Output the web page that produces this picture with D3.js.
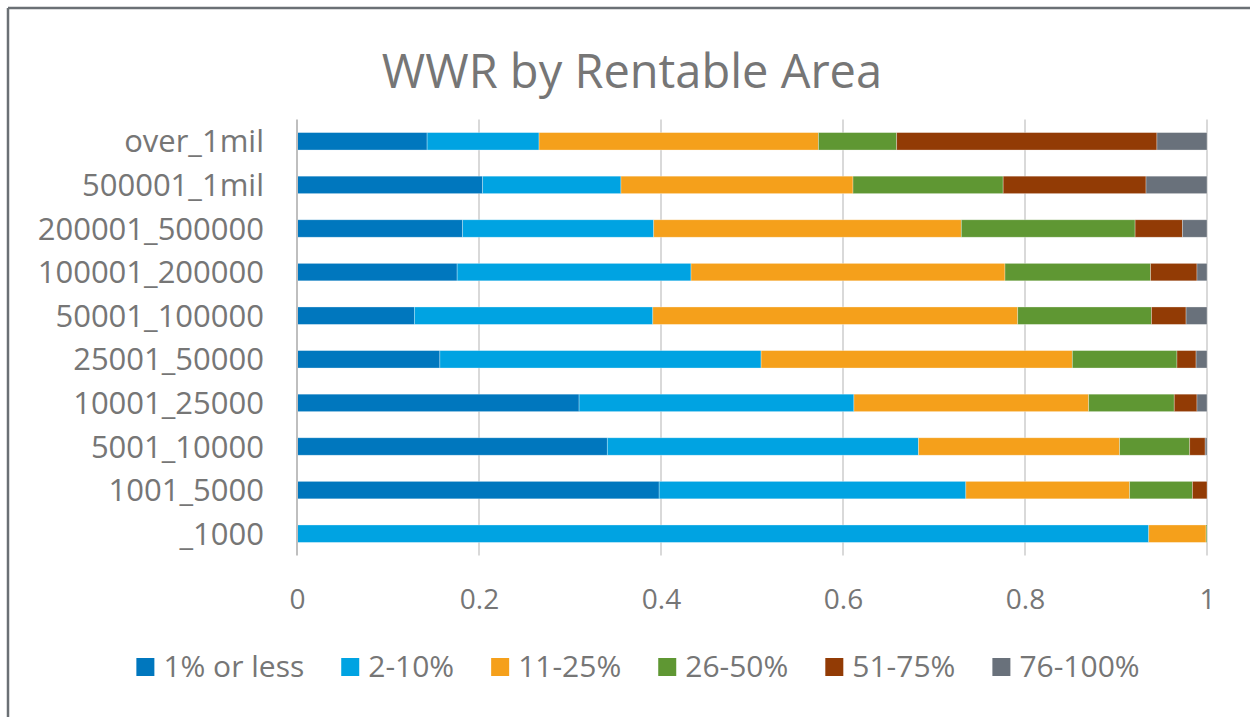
<!DOCTYPE html>
<html lang="en">
<head>
<meta charset="utf-8">
<script src="https://cdn.jsdelivr.net/npm/d3@7"></script>
<style type="text/css">
body {
	margin: 0;
	background: #fff;
	font-family: "Open Sans", sans-serif;
}
</style>
</head>
<body>
<script type="text/javascript">

// categories, top to bottom
var categories = ["over_1mil", "500001_1mil", "200001_500000", "100001_200000", "50001_100000",
                  "25001_50000", "10001_25000", "5001_10000", "1001_5000", "_1000"];

// legend / series names
var seriesNames = ["1% or less", "2-10%", "11-25%", "26-50%", "51-75%", "76-100%"];
var seriesColors = ["#0077be", "#00a3e2", "#f5a01b", "#5f9733", "#923b05", "#69717b"];

// share of each WWR bucket per category
var pctLow   = [0.143, 0.204, 0.182, 0.176, 0.129, 0.157, 0.310, 0.341, 0.398, 0.000];
var pct2_10  = [0.123, 0.152, 0.210, 0.257, 0.262, 0.353, 0.302, 0.342, 0.337, 0.936];
var pct11_25 = [0.307, 0.255, 0.338, 0.345, 0.401, 0.342, 0.258, 0.221, 0.180, 0.063];
var pct26_50 = [0.086, 0.165, 0.191, 0.160, 0.147, 0.115, 0.094, 0.077, 0.069, 0.001];
var pct51_75 = [0.286, 0.157, 0.052, 0.051, 0.038, 0.021, 0.025, 0.017, 0.016, 0.000];
var pct76    = [0.055, 0.067, 0.027, 0.011, 0.023, 0.012, 0.011, 0.002, 0.000, 0.000];

var xTicks = [0, 0.2, 0.4, 0.6, 0.8, 1];

var width = 1250, height = 717;
var textColor = "#767676";

var svg = d3.select("body").append("svg")
	.attr("width", width)
	.attr("height", height);

// chart frame (only top + left edges visible in the crop)
svg.append("line").attr("x1", 8).attr("x2", width).attr("y1", 8).attr("y2", 8)
	.style("stroke", "#6b7075").style("stroke-width", 2.5);
svg.append("line").attr("x1", 8).attr("x2", 8).attr("y1", 8).attr("y2", height)
	.style("stroke", "#6b7075").style("stroke-width", 2.5);

// title
svg.append("text")
	.attr("x", 632)
	.attr("y", 88)
	.attr("text-anchor", "middle")
	.style("font-size", "47px")
	.style("fill", textColor)
	.text("WWR by Rentable Area");

// build table for the stack
var seriesArrays = [pctLow, pct2_10, pct11_25, pct26_50, pct51_75, pct76];
var table = categories.map(function(c, i) {
	var row = {cat: c};
	seriesNames.forEach(function(s, j) { row[s] = seriesArrays[j][i]; });
	return row;
});
var stacked = d3.stack().keys(seriesNames)(table);

var x = d3.scaleLinear().domain([0, 1]).range([297, 1207]);
var y = d3.scaleBand().domain(categories).range([119.5, 555.5]).paddingInner(0.6).paddingOuter(0.3);

// gridlines
svg.append("g")
	.selectAll("line")
	.data(xTicks.slice(1))
	.enter().append("line")
	.attr("x1", function(d) { return x(d); })
	.attr("x2", function(d) { return x(d); })
	.attr("y1", 119.5)
	.attr("y2", 555.5)
	.style("stroke", "#d9d9d9")
	.style("stroke-width", 2);

// bars
svg.append("g")
	.selectAll("g")
	.data(stacked)
	.enter().append("g")
	.style("fill", function(d, i) { return seriesColors[i]; })
	.selectAll("rect")
	.data(function(d) { return d; })
	.enter().append("rect")
	.attr("x", function(d) { return x(d[0]); })
	.attr("width", function(d) { return Math.max(0, x(d[1]) - x(d[0])); })
	.attr("y", function(d) { return y(d.data.cat); })
	.attr("height", y.bandwidth())
	.style("stroke", "#ffffff")
	.style("stroke-opacity", 0.4)
	.style("stroke-width", 0.75);

// vertical axis line
svg.append("line")
	.attr("x1", x(0)).attr("x2", x(0))
	.attr("y1", 119.5).attr("y2", 555.5)
	.style("stroke", "#bfbfbf")
	.style("stroke-width", 2);

// category labels
var yAxis = svg.append("g")
	.attr("transform", "translate(" + 264 + ",0)")
	.call(d3.axisLeft(y).tickSize(0).tickPadding(0));
yAxis.select(".domain").remove();
yAxis.selectAll("text")
	.style("font-family", "'Open Sans', sans-serif")
	.style("font-size", "31px")
	.style("fill", textColor)
	.attr("dy", "0.36em");

// x tick labels
var xAxis = svg.append("g")
	.attr("transform", "translate(0,609)")
	.call(d3.axisBottom(x).tickValues(xTicks).tickFormat(d3.format("")).tickSize(0).tickPadding(0));
xAxis.select(".domain").remove();
xAxis.selectAll("text")
	.style("font-family", "'Open Sans', sans-serif")
	.style("font-size", "28px")
	.style("fill", textColor)
	.attr("dy", 0);

// legend
var legend = svg.append("g");
var items = legend.selectAll("g")
	.data(seriesNames)
	.enter().append("g");
items.append("rect")
	.attr("width", 18)
	.attr("height", 18)
	.attr("y", 658)
	.style("fill", function(d, i) { return seriesColors[i]; });
items.append("text")
	.attr("x", 27)
	.attr("y", 677)
	.style("font-size", "30px")
	.style("fill", textColor)
	.text(function(d) { return d; });

var gap = 37;
var offset = 0;
items.each(function() {
	var g = d3.select(this);
	g.attr("transform", "translate(" + offset + ",0)");
	offset += 27 + g.select("text").node().getComputedTextLength() + gap;
});
var total = offset - gap;
legend.attr("transform", "translate(" + (638 - total / 2) + ",0)");

</script>
</body>
</html>
